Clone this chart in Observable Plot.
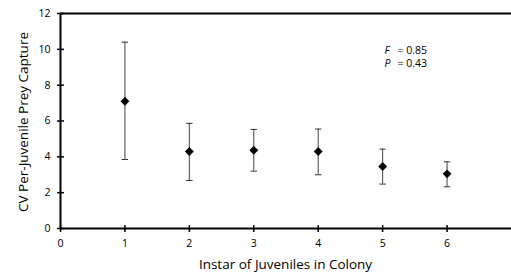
<!DOCTYPE html>
<html><head><meta charset="utf-8">
<script src="https://cdn.jsdelivr.net/npm/d3@7"></script>
<script src="https://cdn.jsdelivr.net/npm/@observablehq/plot@0.6"></script>
<style>body{margin:0;background:#fff}</style>
</head><body><div id="chart"></div>
<script>
const instar = [1, 2, 3, 4, 5, 6];
const meanCV = [7.1, 4.3, 4.37, 4.3, 3.46, 3.05];
const upperCV = [10.4, 5.87, 5.53, 5.55, 4.43, 3.72];
const lowerCV = [3.85, 2.68, 3.2, 3.0, 2.48, 2.33];
const yTicks = [0, 2, 4, 6, 8, 10, 12];
const xTicks = [0, 1, 2, 3, 4, 5, 6];
const statNames = ["F", "P"];
const statValues = ["= 0.85", "= 0.43"];

const data = instar.map((x, i) => ({x, mean: meanCV[i], hi: upperCV[i], lo: lowerCV[i]}));
const hline = {draw(ctx, size) { const r = Math.sqrt(size / Math.PI); ctx.moveTo(-r, 0); ctx.lineTo(r, 0); }};
const vline = {draw(ctx, size) { const r = Math.sqrt(size / Math.PI); ctx.moveTo(0, -r); ctx.lineTo(0, r); }};
const font = "'Open Sans', 'DejaVu Sans', sans-serif";

const statMarks = statNames.flatMap((name, i) => [
  Plot.text([name], {frameAnchor: "top-left", text: d => d, dx: 324, dy: 33 + i * 13, fontStyle: "italic", fontSize: 10.5, textAnchor: "start"}),
  Plot.text([statValues[i]], {frameAnchor: "top-left", text: d => d, dx: 337, dy: 33 + i * 13, fontSize: 10.5, textAnchor: "start"})
]);

const chart = Plot.plot({
  width: 511, height: 276,
  marginLeft: 60, marginTop: 13, marginBottom: 48, marginRight: 0,
  style: {fontFamily: font, fontSize: "10.5px", color: "#000", background: "#fff"},
  x: {domain: [0, 7]},
  y: {domain: [0, 12]},
  marks: [
    Plot.axisY({ticks: yTicks, tickSize: 0, tickPadding: 10, tickFormat: "d", label: null, fontSize: 10.5}),
    Plot.axisX({ticks: xTicks, tickSize: 0, tickPadding: 11, tickFormat: "d", label: null, fontSize: 10.5}),
    Plot.text(["CV Per-Juvenile Prey Capture"], {frameAnchor: "left", text: d => d, rotate: -90, dx: -37, dy: 1, fontSize: 13.5, textAnchor: "middle"}),
    Plot.text(["Instar of Juveniles in Colony"], {frameAnchor: "bottom-left", text: d => d, dx: 225, dy: 40, fontSize: 13.5, textAnchor: "middle"}),
    Plot.ruleY([12], {stroke: "#000", strokeWidth: 2}),
    Plot.ruleY([0], {stroke: "#000", strokeWidth: 2}),
    Plot.ruleX([0], {stroke: "#000", strokeWidth: 2}),
    Plot.dot(yTicks, {x: 0, y: d => d, symbol: hline, r: 3.5, stroke: "#000", strokeWidth: 1.5}),
    Plot.dot(xTicks, {x: d => d, y: 0, symbol: vline, r: 3.5, stroke: "#000", strokeWidth: 1.5}),
    Plot.ruleX(data, {x: "x", y1: "lo", y2: "hi", stroke: "#444", strokeWidth: 1}),
    Plot.dot(data, {x: "x", y: "hi", symbol: hline, r: 3.2, stroke: "#333", strokeWidth: 1}),
    Plot.dot(data, {x: "x", y: "lo", symbol: hline, r: 3.2, stroke: "#333", strokeWidth: 1}),
    Plot.dot(data, {x: "x", y: "mean", symbol: "diamond2", r: 4, fill: "#000", stroke: "none"}),
    ...statMarks
  ]
});
document.getElementById("chart").append(chart);
</script></body></html>
